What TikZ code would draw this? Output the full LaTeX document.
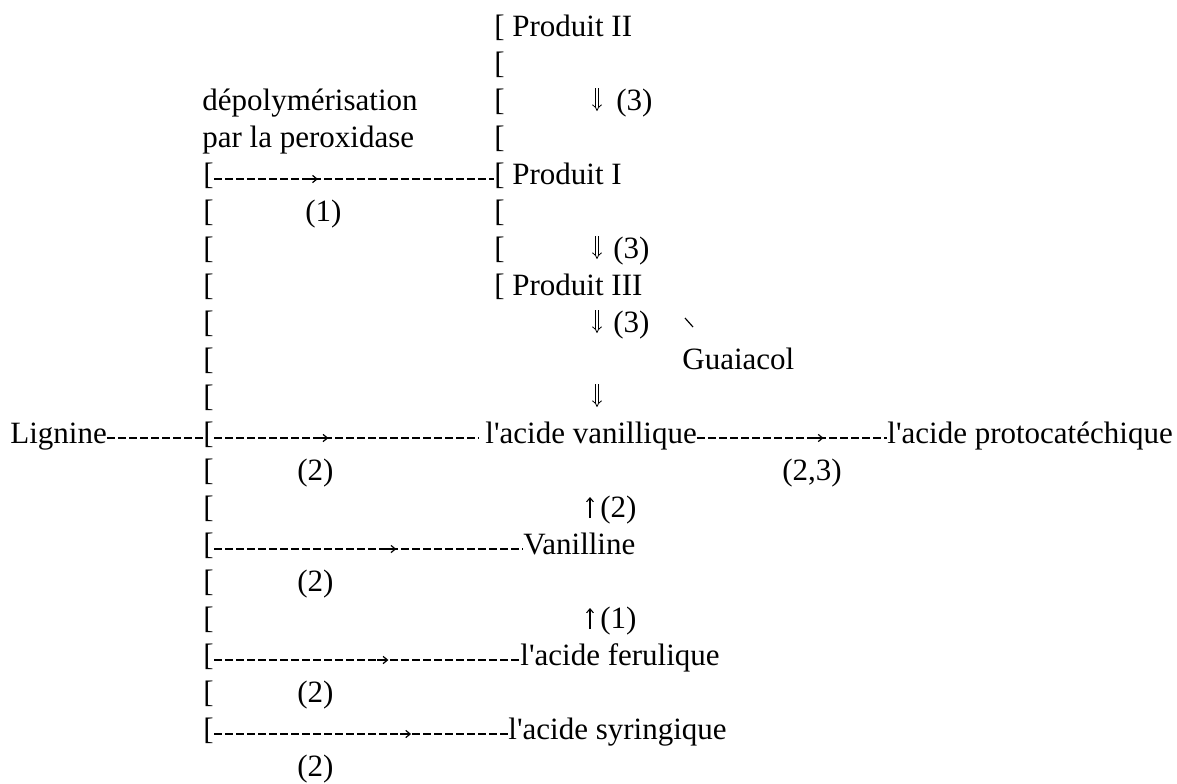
\documentclass[tikz,border=0pt]{standalone}
\usepackage{fontspec}
\setmainfont{Liberation Serif}
\usetikzlibrary{arrows.meta,calc,decorations.markings,positioning}
\newcommand{\apos}{\textquotesingle}
\tikzset{%
	lab/.style      = {inner sep=0pt, anchor=base west, text height=0.7em, text depth=0.2em},
	brk/.style      = {lab}, % bracket of a column
	dashline/.style = {line width=0.7pt, dash pattern=on 4pt off 1.5pt},
	midarrow/.style = {postaction={decorate}, decoration={markings, mark=at position #1 with {\draw[solid, line width=0.6pt, -{Straight Barb[length=2.2pt,width=3.6pt]}] (-4pt,0) -- (1.5pt,0);}}},
	dblarrow/.style = {double, double distance=1.3pt, line width=0.4pt, -{Implies[length=2.5pt]}},
	sglarrow/.style = {line width=0.55pt, -{Straight Barb[length=2pt,width=3.4pt]}},
}
\begin{document}
\begin{tikzpicture}[x=0.5pt,y=-0.5pt,font=\fontsize{15.5pt}{18pt}\selectfont]
	\useasboundingbox (0,0) rectangle (1177,783);
	% bracket columns
	\foreach \i in {0,...,7}
		\node [brk] (R\i) at (494,{36+37*\i}) {[};
	\foreach \i in {4,...,19}
		\node [brk] (L\i) at (203,{36+37*\i}) {[};
	
	\node [lab] (depo) at (202,110) {dépolymérisation};
	\node [lab] (perox) at (202,147) {par la peroxidase};
	\node [lab] (p2) at (512,36) {Produit II};
	\node [lab] (p1) at (512,184) {Produit I};
	\node [lab] (p3) at (512,295) {Produit III};
	\node [lab] (guai) at (682,369) {Guaiacol};
	\node [lab] (lig) at (10,443) {Lignine};
	\node [lab] (van) at (485,443) {l\apos acide vanillique};
	\node [lab] (proto) at (887,443) {l\apos acide protocatéchique};
	\node [lab] (vnl) at (523,554) {Vanilline};
	\node [lab] (fer) at (520,665) {l\apos acide ferulique};
	\node [lab] (syr) at (508,739) {l\apos acide syringique};
	
	% reaction numbers
	\node [lab] (n1) at (305,221) {(1)};
	\node [lab] (n2a) at (297,480) {(2)};
	\node [lab] (n23) at (782,480) {(2,3)};
	\node [lab] (n2b) at (297,591) {(2)};
	\node [lab] (n2c) at (297,702) {(2)};
	\node [lab] (n2d) at (297,776) {(2)};
	\node [lab] (n3a) at (616,110) {(3)};
	\node [lab] (n3b) at (613,258) {(3)};
	\node [lab] (n3c) at (613,332) {(3)};
	\node [lab] (n2e) at (600,517) {(2)};
	\node [lab] (n1b) at (600,628) {(1)};
	
	% vertical arrows
	\foreach \r in {2,6,8,10} {
		\coordinate (dn\r) at (597,{36+37*\r-22});
		\draw [dblarrow] (dn\r) -- ++(0,23);
	}
	\foreach \r in {13,16} {
		\coordinate (up\r) at (590,{36+37*\r+1});
		\draw [sglarrow] (up\r) -- ++(0,-21);
	}
	\coordinate (g1) at (685,318);
	\draw [line width=0.6pt] (g1) -- ++(8,9);
	
	% dashed connectors
	\draw [dashline, midarrow=0.36] (L4.east) -- (R4.west);
	\draw [dashline] (lig.east) -- (L11.west);
	\draw [dashline, midarrow=0.42] (L11.east) -- ([xshift=-3pt]van.west);
	\draw [dashline, midarrow=0.65] (van.east) -- (proto.west);
	\draw [dashline, midarrow=0.58] (L14.east) -- (vnl.west);
	\draw [dashline, midarrow=0.56] (L17.east) -- (fer.west);
	\draw [dashline, midarrow=0.66] (L19.east) -- (syr.west);
\end{tikzpicture}
\end{document}
